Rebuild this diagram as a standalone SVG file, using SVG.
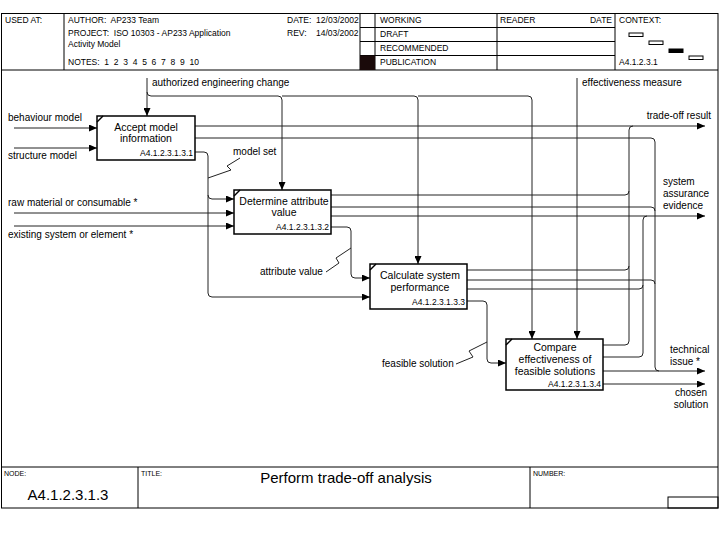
<svg xmlns="http://www.w3.org/2000/svg" width="720" height="540" viewBox="0 0 720 540">
<defs>
<marker id="ah" markerWidth="8" markerHeight="7" refX="8" refY="3.5" orient="auto" markerUnits="userSpaceOnUse"><path d="M0,0 L8,3.5 L0,7 z" fill="#000"/></marker>
<style>
text{font-family:"Liberation Sans",Arial,sans-serif;fill:#000}
.hd{font-size:8.5px;white-space:pre}
.ft{font-size:7px}
.lb{font-size:10px}
.bx{font-size:10.5px;text-anchor:middle}
.id{font-size:8.5px;text-anchor:end}
.frame{fill:none;stroke:#000;stroke-width:1}
.box{fill:#fff;stroke:#000;stroke-width:1.5}
.c{fill:none;stroke:#222;stroke-width:1}
.a{fill:none;stroke:#222;stroke-width:1;marker-end:url(#ah)}
</style>
</defs>
<rect width="720" height="540" fill="#fff"/>

<g id="frame">
<rect class="frame" x="1.5" y="13.5" width="716.5" height="494.5"/>
<line class="frame" x1="1.5" y1="70" x2="718" y2="70"/>
<line class="frame" x1="64" y1="13.5" x2="64" y2="70"/>
<line class="frame" x1="360" y1="13.5" x2="360" y2="70"/>
<line class="frame" x1="375" y1="13.5" x2="375" y2="70"/>
<line class="frame" x1="497" y1="13.5" x2="497" y2="70"/>
<line class="frame" x1="615" y1="13.5" x2="615" y2="70"/>
<line class="frame" x1="360" y1="27.5" x2="615" y2="27.5"/>
<line class="frame" x1="360" y1="41.5" x2="615" y2="41.5"/>
<line class="frame" x1="360" y1="55.5" x2="615" y2="55.5"/>
<rect x="360" y="55.5" width="15" height="14.5" fill="#1a0a0a"/>
<text class="hd" x="5" y="23">USED AT:</text>
<text class="hd" x="68" y="23" xml:space="preserve">AUTHOR:  AP233 Team</text>
<text class="hd" x="287" y="23" xml:space="preserve">DATE:  12/03/2002</text>
<text class="hd" x="68" y="36" xml:space="preserve">PROJECT:  ISO 10303 - AP233 Application</text>
<text class="hd" x="287" y="36" xml:space="preserve">REV:    14/03/2002</text>
<text class="hd" x="68" y="47">Activity Model</text>
<text class="hd" x="68" y="65" xml:space="preserve">NOTES:  1  2  3  4  5  6  7  8  9  10</text>
<text class="hd" x="380" y="23">WORKING</text>
<text class="hd" x="380" y="37">DRAFT</text>
<text class="hd" x="380" y="51">RECOMMENDED</text>
<text class="hd" x="380" y="65">PUBLICATION</text>
<text class="hd" x="500" y="23">READER</text>
<text class="hd" x="612" y="23" text-anchor="end">DATE</text>
<text class="hd" x="619" y="23">CONTEXT:</text>
<text class="hd" x="619" y="65">A4.1.2.3.1</text>
<rect x="629" y="33" width="14" height="3.5" fill="#fff" stroke="#000" stroke-width="1"/>
<rect x="649" y="41" width="14" height="3.5" fill="#fff" stroke="#000" stroke-width="1"/>
<rect x="669" y="49" width="14" height="3.5" fill="#000" stroke="#000" stroke-width="1"/>
<rect x="689" y="56" width="14" height="3.5" fill="#fff" stroke="#000" stroke-width="1"/>
<line class="frame" x1="1.5" y1="467" x2="718" y2="467"/>
<line class="frame" x1="138" y1="467" x2="138" y2="508"/>
<line class="frame" x1="530" y1="467" x2="530" y2="508"/>
<rect class="frame" x="668" y="497" width="50" height="11"/>
<text class="ft" x="4" y="476">NODE:</text>
<text class="ft" x="141" y="476">TITLE:</text>
<text class="ft" x="533" y="476">NUMBER:</text>
<text x="68" y="500" font-size="15" text-anchor="middle">A4.1.2.3.1.3</text>
<text x="346" y="483" font-size="15" text-anchor="middle">Perform trade-off analysis</text>
</g>

<g id="connectors">
<path class="a" d="M14,128 H97"/>
<path class="a" d="M14,148 H97"/>
<path class="a" d="M14,213 H234"/>
<path class="a" d="M14,226 H234"/>
<path class="a" d="M195,152 H204 Q208,152 208,156 V195 Q208,199 212,199 H234"/>
<path class="a" d="M208,195 V293 Q208,297 212,297 H370"/>
<path class="a" d="M331,227 H347 Q351,227 351,231 V274 Q351,278 355,278 H370"/>
<path class="a" d="M467,301 H483 Q487,301 487,305 V359 Q487,363 491,363 H506"/>
<path class="a" d="M147,78 V116"/>
<path class="a" d="M147,92 Q147,96 151,96 H278 Q282,96 282,100 V190"/>
<path class="a" d="M282,96 H414 Q418,96 418,100 V264"/>
<path class="a" d="M418,96 H528 Q532,96 532,100 V339"/>
<path class="a" d="M577,78 V339"/>
<path class="a" d="M195,126 H705"/>
<path class="c" d="M195,138 H651 Q655,138 655,142 V367 Q655,371 659,371"/>
<path class="a" d="M603,371 H705"/>
<path class="a" d="M603,384 H705"/>
<path class="c" d="M331,195 H625 Q629,195 629,191"/>
<path class="c" d="M331,207 H651 Q655,207 655,211"/>
<path class="a" d="M331,216 H705"/>
<path class="c" d="M467,270 H625 Q629,270 629,266"/>
<path class="c" d="M467,280 H651 Q655,280 655,284"/>
<path class="c" d="M467,289 H639 Q643,289 643,285"/>
<path class="c" d="M603,345 H625 Q629,345 629,341 V130 Q629,126 633,126"/>
<path class="c" d="M603,357 H639 Q643,357 643,353 V220 Q643,216 647,216"/>
<path class="c" d="M240,158 L227,166 L231,170 L208,178"/>
<path class="c" d="M326,272 L339,263 L336,258 L351,248"/>
<path class="c" d="M456,364 L473,357 L469,351 L487,342"/>
</g>

<g id="labels">
<text class="lb" x="8" y="121">behaviour model</text>
<text class="lb" x="8" y="159">structure model</text>
<text class="lb" x="8" y="206">raw material or consumable *</text>
<text class="lb" x="8" y="238">existing system or element *</text>
<text class="lb" x="152" y="86">authorized engineering change</text>
<text class="lb" x="582" y="86">effectiveness measure</text>
<text class="lb" x="233" y="155">model set</text>
<text class="lb" x="260" y="275">attribute value</text>
<text class="lb" x="382" y="367">feasible solution</text>
<text class="lb" x="711" y="119" text-anchor="end">trade-off result</text>
<text class="lb" x="663" y="185">system</text>
<text class="lb" x="663" y="197">assurance</text>
<text class="lb" x="663" y="209">evidence</text>
<text class="lb" x="670" y="353">technical</text>
<text class="lb" x="670" y="365">issue *</text>
<text class="lb" x="691" y="396" text-anchor="middle">chosen</text>
<text class="lb" x="691" y="408" text-anchor="middle">solution</text>
</g>

<g id="A1">
<rect class="box" x="97" y="116" width="98" height="44"/>
<line x1="97" y1="122" x2="103" y2="116" stroke="#000" stroke-width="1.5"/>
<text class="bx" x="146" y="131">Accept model</text>
<text class="bx" x="146" y="142">information</text>
<text class="id" x="193" y="156">A4.1.2.3.1.3.1</text>
</g>
<g id="A2">
<rect class="box" x="234" y="190" width="97" height="44"/>
<line x1="234" y1="196" x2="240" y2="190" stroke="#000" stroke-width="1.5"/>
<text class="bx" x="284" y="205">Determine attribute</text>
<text class="bx" x="284" y="216">value</text>
<text class="id" x="329" y="230">A4.1.2.3.1.3.2</text>
</g>
<g id="A3">
<rect class="box" x="370" y="264" width="97" height="45"/>
<line x1="370" y1="270" x2="376" y2="264" stroke="#000" stroke-width="1.5"/>
<text class="bx" x="420" y="279">Calculate system</text>
<text class="bx" x="420" y="291">performance</text>
<text class="id" x="465" y="305">A4.1.2.3.1.3.3</text>
</g>
<g id="A4">
<rect class="box" x="506" y="339" width="97" height="51"/>
<line x1="506" y1="345" x2="512" y2="339" stroke="#000" stroke-width="1.5"/>
<text class="bx" x="555" y="351">Compare</text>
<text class="bx" x="555" y="363">effectiveness of</text>
<text class="bx" x="555" y="375">feasible solutions</text>
<text class="id" x="601" y="387">A4.1.2.3.1.3.4</text>
</g>
</svg>
